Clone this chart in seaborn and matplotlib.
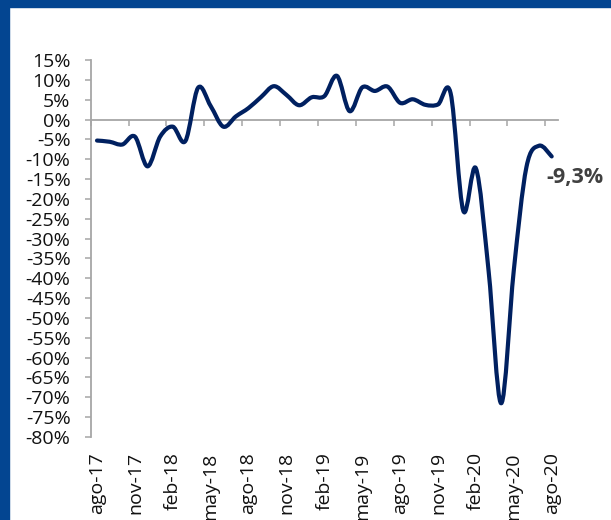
import numpy as np
import matplotlib
matplotlib.use("Agg")
import matplotlib.pyplot as plt
from matplotlib.path import Path
from matplotlib.patches import PathPatch, Rectangle
import seaborn as sns

# ---- data (monthly, ago-17 .. ago-20) ----
months = ["ago-17", "sep-17", "oct-17", "nov-17", "dic-17", "ene-18", "feb-18", "mar-18",
          "abr-18", "may-18", "jun-18", "jul-18", "ago-18", "sep-18", "oct-18", "nov-18",
          "dic-18", "ene-19", "feb-19", "mar-19", "abr-19", "may-19", "jun-19", "jul-19",
          "ago-19", "sep-19", "oct-19", "nov-19", "dic-19", "ene-20", "feb-20", "mar-20",
          "abr-20", "may-20", "jun-20", "jul-20", "ago-20"]
values = [-5.3, -5.6, -6.3, -4.3, -11.8, -4.3, -1.8, -5.4,
          8.0, 3.4, -1.8, 0.8, 2.9, 5.7, 8.4, 6.2,
          3.6, 5.6, 5.9, 11.0, 2.1, 8.1, 7.2, 8.3,
          4.2, 5.1, 3.7, 3.8, 6.6, -23.0, -12.3, -38.0,
          -71.5, -38.0, -12.0, -6.6, -9.3]
tick_labels = ["ago-17", "nov-17", "feb-18", "may-18", "ago-18", "nov-18", "feb-19",
               "may-19", "ago-19", "nov-19", "feb-20", "may-20", "ago-20"]
y_ticks = list(range(15, -81, -5))
end_label = "-9,3%"

LINE = "#002060"
GREY = "#A6A6A6"
FRAME = "#034591"

sns.set_theme(style="white")
plt.rcParams["font.family"] = ["Open Sans", "DejaVu Sans"]

fig = plt.figure(figsize=(6.11, 5.20), dpi=100)
ax = fig.add_axes([90.7 / 611, 1 - 437 / 520, (558 - 90.7) / 611, (437 - 60) / 520])

x = np.arange(len(values), dtype=float)
y = np.asarray(values, dtype=float)

# smoothed line (Excel-like bezier through the data points)
P = np.column_stack([x, y])
ext = np.vstack([P[0], P, P[-1]])
verts = [P[0]]
codes = [Path.MOVETO]
for i in range(len(P) - 1):
    p0, p1, p2, p3 = ext[i], ext[i + 1], ext[i + 2], ext[i + 3]
    c1 = p1 + (p2 - p0) / 6.0
    c2 = p2 - (p3 - p1) / 6.0
    verts += [c1, c2, p2]
    codes += [Path.CURVE4] * 3
patch = PathPatch(Path(verts, codes), fill=False, edgecolor=LINE, lw=3.0,
                  capstyle="round", joinstyle="round", zorder=5)
ax.add_patch(patch)

ax.set_xlim(-0.5, len(values) - 0.5)
ax.set_ylim(-80, 15)

# y axis
ax.set_yticks(y_ticks)
ax.set_yticklabels([f"{v}%" for v in y_ticks])
ax.tick_params(axis="y", direction="out", length=4.5, width=1.1, color=GREY,
               labelsize=14, labelcolor="#111111", pad=10, left=True)
for s in ["top", "right", "bottom"]:
    ax.spines[s].set_visible(False)
ax.spines["left"].set_color(GREY)
ax.spines["left"].set_linewidth(1.3)

# x labels at bottom (category centres)
lab_pos = [months.index(m) for m in tick_labels]
ax.set_xticks(lab_pos)
ax.set_xticklabels(tick_labels, rotation=90, va="top", ha="center")
ax.tick_params(axis="x", length=0, labelsize=14, labelcolor="#111111", pad=11)

# zero axis line with ticks between categories
zero_frac = (0 - (-80)) / (15 - (-80))
sec = ax.secondary_xaxis(zero_frac)
sec.set_xticks([p - 0.5 for p in lab_pos])
sec.tick_params(axis="x", direction="in", length=4.5, width=1.1, color=GREY,
                labeltop=False, labelbottom=False)
for s in sec.spines.values():
    s.set_color(GREY)
    s.set_linewidth(1.3)

ax.annotate(end_label, xy=(x[-1], y[-1]), xytext=(-5, -21), textcoords="offset pixels",
            ha="left", va="center", fontsize=15.5, fontweight="bold", color="#404040")

# blue frame
fig.patches.append(Rectangle((0, 1 - 7 / 520), 1, 7 / 520, transform=fig.transFigure,
                             color=FRAME, zorder=0))
fig.patches.append(Rectangle((0, 0), 9 / 611, 1, transform=fig.transFigure,
                             color=FRAME, zorder=0))

fig.savefig("out.png", dpi=100, facecolor="white")
